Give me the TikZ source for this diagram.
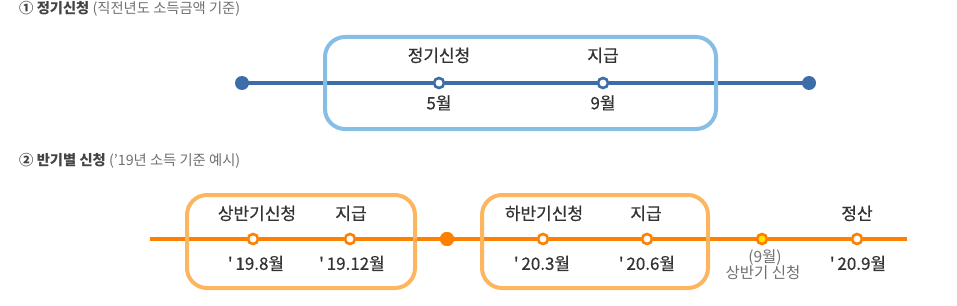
\documentclass[tikz,border=0pt]{standalone}
\usepackage{fontspec}
\defaultfontfeatures{}
\setmainfont{Noto Sans CJK KR}
\newfontfamily\lblfont[FakeBold=0.5]{Noto Sans CJK KR}
\definecolor{bline}{HTML}{3D6DA8}
\definecolor{bbox}{HTML}{86BEE6}
\definecolor{oline}{HTML}{FF7F00}
\definecolor{obox}{HTML}{FDB560}
\definecolor{ylw}{HTML}{FFE400}
\definecolor{txt}{HTML}{333333}
\definecolor{ttl}{HTML}{444444}
\definecolor{sub}{HTML}{707070}
\begin{document}
\begin{tikzpicture}[x=1pt,y=-1pt,
  lbl/.style={font=\lblfont\fontsize{17}{17}\selectfont, text=txt, inner sep=0pt, text height=0.83em, text depth=0.07em, anchor=center},
  small/.style={font=\fontsize{15.5}{15.5}\selectfont, text=sub, inner sep=0pt, text height=0.83em, text depth=0.07em, anchor=center},
  ttlnode/.style={font=\fontsize{14.3}{14.3}\selectfont, inner sep=0pt, text height=0.83em, text depth=0.07em, anchor=west},
  bdot/.style={circle, fill=bline, minimum size=14pt, inner sep=0pt},
  bopen/.style={circle, fill=white, draw=bline, line width=2.6pt, minimum size=10pt, inner sep=0pt},
  odot/.style={circle, fill=oline, minimum size=14pt, inner sep=0pt},
  oopen/.style={circle, fill=white, draw=oline, line width=2.6pt, minimum size=10pt, inner sep=0pt},
  oyel/.style={circle, fill=ylw, draw=oline, line width=2.6pt, minimum size=10pt, inner sep=0pt},
  bframe/.style={draw=bbox, line width=4pt, rounded corners=20pt},
  oframe/.style={draw=obox, line width=4pt, rounded corners=20pt},
  bln/.style={draw=bline, line width=3.8pt},
  oln/.style={draw=oline, line width=4pt}]
\useasboundingbox (0,0) rectangle (957,305);

% Titles
\node[ttlnode] (t1) at (19,10) {\textcolor{ttl}{\bfseries ① 정기신청} \textcolor{sub}{(직전년도 소득금액 기준)}};
\node[ttlnode] (t2) at (19,161.5) {\textcolor{ttl}{\bfseries ② 반기별 신청} \textcolor{sub}{('19년 소득 기준 예시)}};

% Top timeline
\node[bdot] (a0) at (242,83) {};
\node[bdot] (a3) at (809,83) {};
\node[bopen] (a1) at (439,83) {};
\node[bopen] (a2) at (603,83) {};
\draw[bln] (a0.center) -- (a1);
\draw[bln] (a1) -- (a2);
\draw[bln] (a2) -- (a3.center);
\draw[bframe] (325,37) rectangle (716,129);
\node[lbl] (la1) at (439,58) {정기신청};
\node[lbl] (la2) at (603,58) {지급};
\node[lbl] (lb1) at (439,105.5) {5월};
\node[lbl] (lb2) at (603,105.5) {9월};

% Bottom timeline
\coordinate (s) at (150,239);
\coordinate (e) at (907,239);
\node[oopen] (b1) at (253,239) {};
\node[oopen] (b2) at (350,239) {};
\node[odot] (b3) at (447,239) {};
\node[oopen] (b4) at (543,239) {};
\node[oopen] (b5) at (647,239) {};
\node[oyel] (b6) at (762,239) {};
\node[oopen] (b7) at (857,239) {};
\draw[oln] (s) -- (b1);
\draw[oln] (b1) -- (b2);
\draw[oln] (b2) -- (b3.center);
\draw[oln] (b3.center) -- (b4);
\draw[oln] (b4) -- (b5);
\draw[oln] (b5) -- (b6);
\draw[oln] (b6) -- (b7);
\draw[oln] (b7) -- (e);
\node[odot] at (447,239) {};
\draw[oframe] (187,195) rectangle (415,288);
\draw[oframe] (482,195) rectangle (708,288);

\node[lbl] (c1) at (257,216) {상반기신청};
\node[lbl] (c2) at (351,216) {지급};
\node[lbl] (c4) at (544,216) {하반기신청};
\node[lbl] (c5) at (646,216) {지급};
\node[lbl] (c7) at (857,216) {정산};

\node[lbl] (d1) at (256,266) {'\,19.8월};
\node[lbl] (d2) at (352,266) {'\,19.12월};
\node[lbl] (d4) at (542,266) {'\,20.3월};
\node[lbl] (d5) at (647,266) {'\,20.6월};
\node[lbl] (d7) at (858,266) {'\,20.9월};
\node[small] (d6a) at (765,259) {(9월)};
\node[small] (d6b) at (763,275) {상반기 신청};
\end{tikzpicture}
\end{document}
